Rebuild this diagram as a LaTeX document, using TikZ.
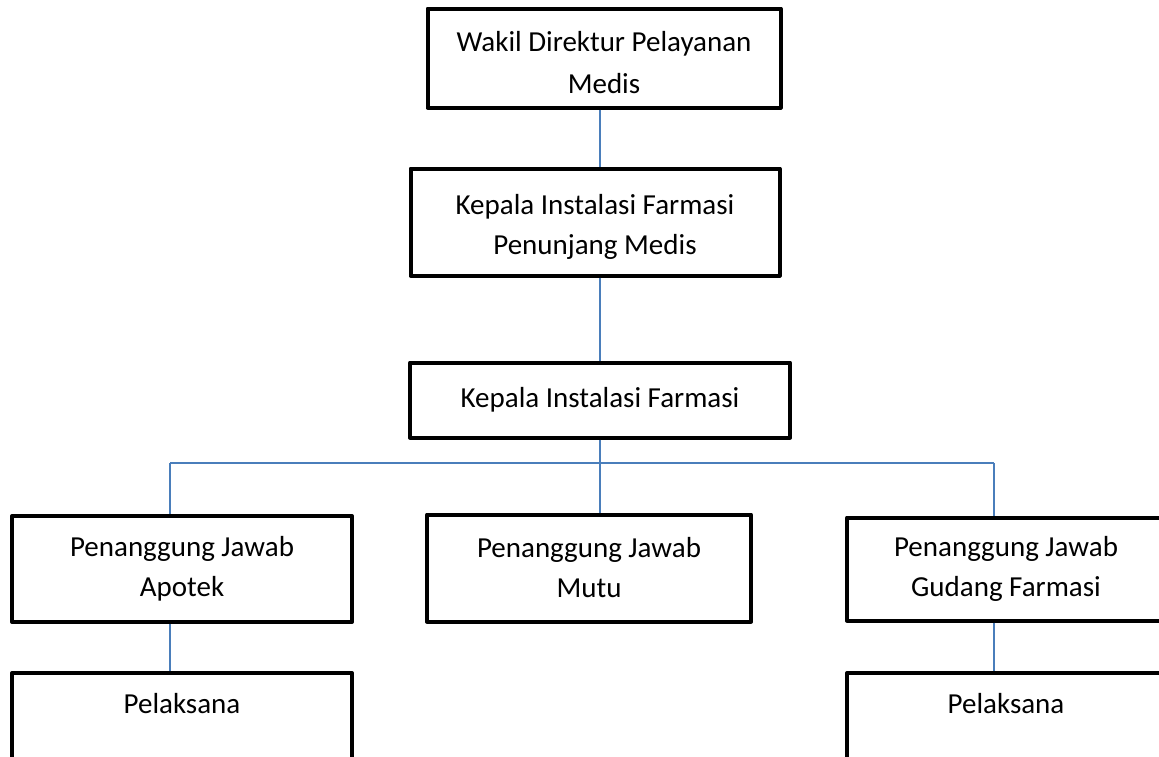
\documentclass[tikz,border=0pt]{standalone}
\usepackage{fontspec}
\setmainfont{Carlito}
\definecolor{linkblue}{RGB}{74,126,187}
\newcommand{\toppad}[1]{\rule{0pt}{#1}}
\begin{document}
\begin{tikzpicture}[
                x=1pt, y=-1pt,
                box/.style={
                    draw=black,
                    fill=white,
                    rectangle,
                    line width=4pt,
                    line join=round,
                    align=center,
                    inner sep=0pt,
                    font=\fontsize{29}{40}\selectfont
                },
                lowbox/.style={
                    box,
                    anchor=north,
                    text height=21pt,
                    text depth=32pt,
                    inner ysep=19pt
                },
                link/.style={
                    draw=linkblue,
                    line width=1.5pt
                }
            ]
                \useasboundingbox (0,0) rectangle (1159,756);

                \node[box, minimum width=353pt, minimum height=99pt,
                      font=\fontsize{29}{42}\selectfont] (wakil) at (604,58) {\toppad{30pt}Wakil Direktur Pelayanan\\Medis};
                \node[box, minimum width=369pt, minimum height=107pt] (kifpm) at (595,222) {\toppad{29pt}Kepala Instalasi Farmasi\\Penunjang Medis};
                \node[box, minimum width=380pt, minimum height=75pt] (kif) at (600,400) {Kepala Instalasi Farmasi};

                \node[box, minimum width=340pt, minimum height=106pt] (apotek) at (182,569) {Penanggung Jawab\\Apotek};
                \node[box, minimum width=324pt, minimum height=107pt] (mutu) at (589,568) {Penanggung Jawab\\Mutu};
                \node[box, minimum width=318pt, minimum height=103pt] (gudang) at (1006,569) {Penanggung Jawab\\Gudang Farmasi};

                \node[lowbox, minimum width=340pt] (pel1) at (182,671) {Pelaksana};
                \node[lowbox, minimum width=318pt] (pel2) at (1006,671) {Pelaksana};

                \coordinate (bus) at (600,463);
                \coordinate (busL) at (170,463);
                \coordinate (busR) at (994,463);

                \draw[link] (wakil.south -| kif.north) -- (kifpm.north -| kif.north);
                \draw[link] (kifpm.south -| kif.north) -- (kif.north);
                \draw[link] (kif) -- (bus);
                \draw[link] (busL) -- (busR);
                \draw[link] (busL) -- (busL |- apotek.north);
                \draw[link] (bus) -- (bus |- mutu.north);
                \draw[link] (busR) -- (busR |- gudang.north);
                \draw[link] (busL |- apotek.south) -- (busL |- pel1.north);
                \draw[link] (busR |- gudang.south) -- (busR |- pel2.north);
        \end{tikzpicture}
\end{document}
